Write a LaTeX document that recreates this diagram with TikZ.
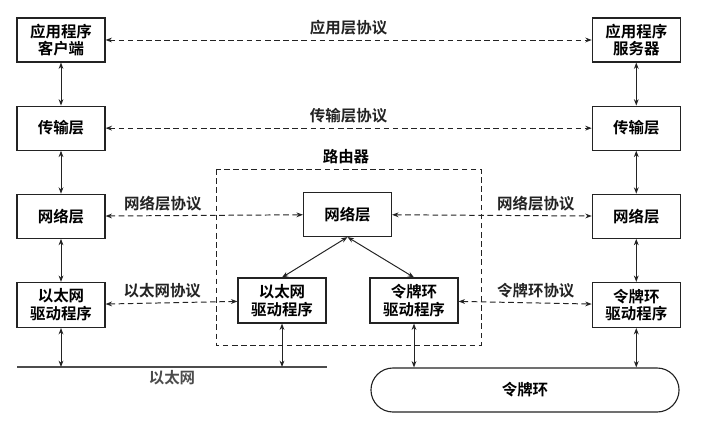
\documentclass[tikz,border=0pt]{standalone}
\usepackage{fontspec}
\setmainfont{Noto Sans CJK SC}[BoldFont={Noto Sans CJK SC Bold}]
\usepackage{tikz}
\usetikzlibrary{arrows.meta, positioning, calc}
\definecolor{lineblack}{RGB}{35, 35, 35}

\begin{document}
\begin{tikzpicture}[
    x=0.025cm, y=-0.025cm,
    node distance=1.075cm,
    box/.style={rectangle, draw=lineblack, line width=0.8pt,
                minimum width=2.2cm, minimum height=1.1cm, align=center,
                font=\fontsize{11}{12.5}\selectfont\bfseries},
    link/.style={{Stealth[length=1.6mm, width=1.2mm]}-{Stealth[length=1.6mm, width=1.2mm]}, line width=0.7pt, lineblack},
    proto/.style={link, dash pattern=on 4pt off 2.5pt},
    lbl/.style={font=\fontsize{11}{12.5}\selectfont\bfseries, above, inner sep=3pt}
]

\useasboundingbox (0,0) rectangle (721,425);

% Client host
\node[box] (cApp) at (61,40) {应用程序\\客户端};
\node[box, below=of cApp] (cTrans) {传输层};
\node[box, below=of cTrans] (cNet) {网络层};
\node[box, below=of cNet, minimum height=1.125cm] (cEth) {以太网\\驱动程序};

% Server host
\node[box, right=12.15cm of cApp] (sApp) {应用程序\\服务器};
\node[box, below=of sApp] (sTrans) {传输层};
\node[box, below=of sTrans] (sNet) {网络层};
\node[box, below=of sNet, minimum height=1.125cm] (sTok) {令牌环\\驱动程序};

% Router
\node[box] (rNet) at (347.5,214.5) {网络层};
\node[box, minimum height=1.125cm] (rEth) at (282,300.5) {以太网\\驱动程序};
\node[box, minimum height=1.125cm] (rTok) at (414,300.5) {令牌环\\驱动程序};
\draw[lineblack, line width=0.7pt, dash pattern=on 4pt off 2.5pt] (216,169) rectangle (481,345);
\node[font=\fontsize{11}{12.5}\selectfont\bfseries] (rLabel) at (346,157) {路由器};

% Networks
\coordinate (ethL) at (17,367);
\coordinate (ethR) at (327,367);
\draw[line width=1pt, black!70] (ethL) -- node[below, font=\fontsize{11}{12.5}\selectfont\bfseries, pos=0.5, inner sep=2pt] {以太网} (ethR);
\node[draw=lineblack, line width=0.8pt, rounded corners=0.55cm, minimum width=7.7cm, minimum height=1.1cm,
      font=\fontsize{11}{12.5}\selectfont\bfseries] (ring) at (525,390) {令牌环};

% Stack links
\draw[link] (cApp) -- (cTrans);
\draw[link] (cTrans) -- (cNet);
\draw[link] (cNet) -- (cEth);
\draw[link] (cEth) -- (cEth.south |- ethL);
\draw[link] (sApp) -- (sTrans);
\draw[link] (sTrans) -- (sNet);
\draw[link] (sNet) -- (sTok);
\draw[link] (sTok) -- (sTok.south |- ring.north);
\draw[link] (rNet.south) -- (rEth.north);
\draw[link] (rNet.south) -- (rTok.north);
\draw[link] (rEth) -- (rEth.south |- ethL);
\draw[link] (rTok) -- (rTok.south |- ring.north);

% Peer protocols
\draw[proto] (cApp) -- node[lbl] {应用层协议} (sApp);
\draw[proto] (cTrans) -- node[lbl] {传输层协议} (sTrans);
\draw[proto] (cNet) -- node[lbl, pos=0.29] {网络层协议} (rNet);
\draw[proto] (rNet) -- node[lbl, pos=0.72] {网络层协议} (sNet);
\draw[proto] (cEth) -- node[lbl, pos=0.43] {以太网协议} (rEth);
\draw[proto] (rTok) -- node[lbl, pos=0.58] {令牌环协议} (sTok);

\end{tikzpicture}
\end{document}
